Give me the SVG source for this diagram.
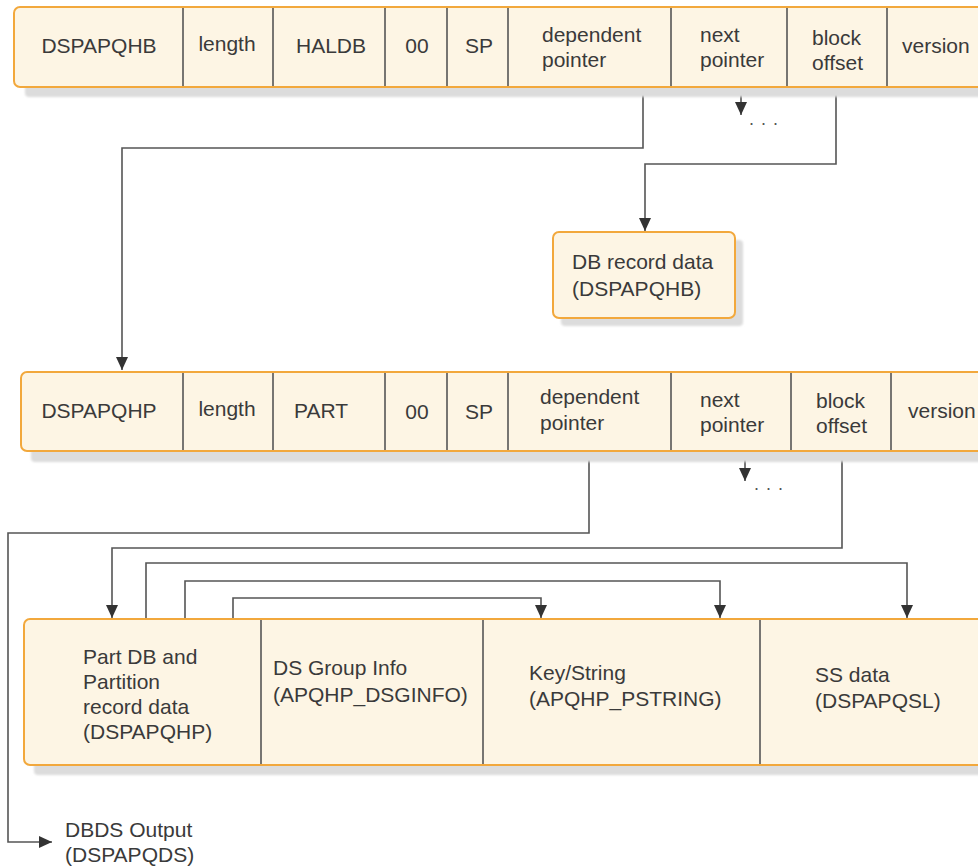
<svg xmlns="http://www.w3.org/2000/svg" width="978" height="867" viewBox="0 0 978 867">
<defs>
<style>
.box{fill:#fdf5e4;stroke:#f2a83c;stroke-width:2}
.shadow{fill:#dcdcdc;filter:url(#blur)}
.div{stroke:#555;stroke-width:1.6}
.t{font-family:"Liberation Sans",Arial,sans-serif;font-size:21px;fill:#3a3a3a}
.c{text-anchor:middle}
.conn{fill:none;stroke:#555;stroke-width:1.6}
.dots{font-family:"Liberation Sans",Arial,sans-serif;font-size:18px;fill:#555;letter-spacing:1px}
</style>
<filter id="blur" x="-5%" y="-20%" width="110%" height="140%"><feGaussianBlur stdDeviation="1.2"/></filter>
<marker id="arr" markerUnits="userSpaceOnUse" markerWidth="13" markerHeight="13" viewBox="0 0 13 13" refX="13" refY="6.5" orient="auto">
<path d="M0,0.5 L13,6.5 L0,12.5 z" fill="#333"/>
</marker>
</defs>

<g id="connectors">
<path class="conn" d="M643,87 V148 H122 V370" marker-end="url(#arr)"/>
<path class="conn" d="M741,87 V115" marker-end="url(#arr)"/>
<path class="conn" d="M836,87 V164 H645 V231" marker-end="url(#arr)"/>
<path class="conn" d="M589,451 V533 H8 V842 H52" marker-end="url(#arr)"/>
<path class="conn" d="M745,451 V481" marker-end="url(#arr)"/>
<path class="conn" d="M842,451 V548 H112 V618" marker-end="url(#arr)"/>
<path class="conn" d="M146,619 V563 H907 V618" marker-end="url(#arr)"/>
<path class="conn" d="M185,619 V581 H720 V618" marker-end="url(#arr)"/>
<path class="conn" d="M233,619 V598 H541 V618" marker-end="url(#arr)"/>
</g>

<g id="dspapqhb-header">
<rect class="shadow" x="25" y="18" width="980" height="79" rx="4"/>
<rect class="box" x="14" y="7" width="990" height="80" rx="6"/>
<line class="div" x1="183" y1="8" x2="183" y2="86"/>
<line class="div" x1="273" y1="8" x2="273" y2="86"/>
<line class="div" x1="385" y1="8" x2="385" y2="86"/>
<line class="div" x1="447" y1="8" x2="447" y2="86"/>
<line class="div" x1="508" y1="8" x2="508" y2="86"/>
<line class="div" x1="671" y1="8" x2="671" y2="86"/>
<line class="div" x1="787" y1="8" x2="787" y2="86"/>
<line class="div" x1="887" y1="8" x2="887" y2="86"/>
<text class="t c" x="99" y="53">DSPAPQHB</text>
<text class="t c" x="227" y="51">length</text>
<text class="t c" x="331" y="53">HALDB</text>
<text class="t c" x="417" y="53">00</text>
<text class="t c" x="479" y="53">SP</text>
<text class="t" x="542" y="42">dependent</text>
<text class="t" x="542" y="67">pointer</text>
<text class="t" x="700" y="42">next</text>
<text class="t" x="700" y="67">pointer</text>
<text class="t" x="812" y="45">block</text>
<text class="t" x="812" y="70">offset</text>
<text class="t" x="902" y="53">version</text>
</g>
<text class="dots" x="749" y="125">. . .</text>

<g id="db-record-data">
<rect class="shadow" x="561" y="240" width="182" height="86" rx="4"/>
<rect class="box" x="553" y="232" width="182" height="86" rx="6"/>
<text class="t" x="572" y="269">DB record data</text>
<text class="t" x="572" y="296">(DSPAPQHB)</text>
</g>

<g id="dspapqhp-header">
<rect class="shadow" x="31" y="382" width="980" height="80" rx="4"/>
<rect class="box" x="21" y="372" width="990" height="79" rx="6"/>
<line class="div" x1="183" y1="373" x2="183" y2="450"/>
<line class="div" x1="273" y1="373" x2="273" y2="450"/>
<line class="div" x1="385" y1="373" x2="385" y2="450"/>
<line class="div" x1="447" y1="373" x2="447" y2="450"/>
<line class="div" x1="508" y1="373" x2="508" y2="450"/>
<line class="div" x1="671" y1="373" x2="671" y2="450"/>
<line class="div" x1="791" y1="373" x2="791" y2="450"/>
<line class="div" x1="891" y1="373" x2="891" y2="450"/>
<text class="t c" x="99" y="418">DSPAPQHP</text>
<text class="t c" x="227" y="416">length</text>
<text class="t c" x="321" y="418">PART</text>
<text class="t c" x="417" y="419">00</text>
<text class="t c" x="479" y="419">SP</text>
<text class="t" x="540" y="404">dependent</text>
<text class="t" x="540" y="430">pointer</text>
<text class="t" x="700" y="407">next</text>
<text class="t" x="700" y="432">pointer</text>
<text class="t" x="816" y="408">block</text>
<text class="t" x="816" y="433">offset</text>
<text class="t" x="908" y="418">version</text>
</g>
<text class="dots" x="754" y="490">. . .</text>

<g id="partition-record">
<rect class="shadow" x="34" y="629" width="980" height="146" rx="4"/>
<rect class="box" x="24" y="619" width="990" height="146" rx="6"/>
<line class="div" x1="261" y1="620" x2="261" y2="764"/>
<line class="div" x1="483" y1="620" x2="483" y2="764"/>
<line class="div" x1="760" y1="620" x2="760" y2="764"/>
<text class="t" x="83" y="664">Part DB and</text>
<text class="t" x="83" y="689">Partition</text>
<text class="t" x="83" y="714">record data</text>
<text class="t" x="83" y="739">(DSPAPQHP)</text>
<text class="t" x="273" y="675">DS Group Info</text>
<text class="t" x="273" y="702">(APQHP_DSGINFO)</text>
<text class="t" x="529" y="680">Key/String</text>
<text class="t" x="529" y="706">(APQHP_PSTRING)</text>
<text class="t" x="815" y="682">SS data</text>
<text class="t" x="815" y="708">(DSPAPQSL)</text>
</g>

<g id="dbds-output">
<text class="t" x="65" y="837">DBDS Output</text>
<text class="t" x="65" y="862">(DSPAPQDS)</text>
</g>
</svg>
